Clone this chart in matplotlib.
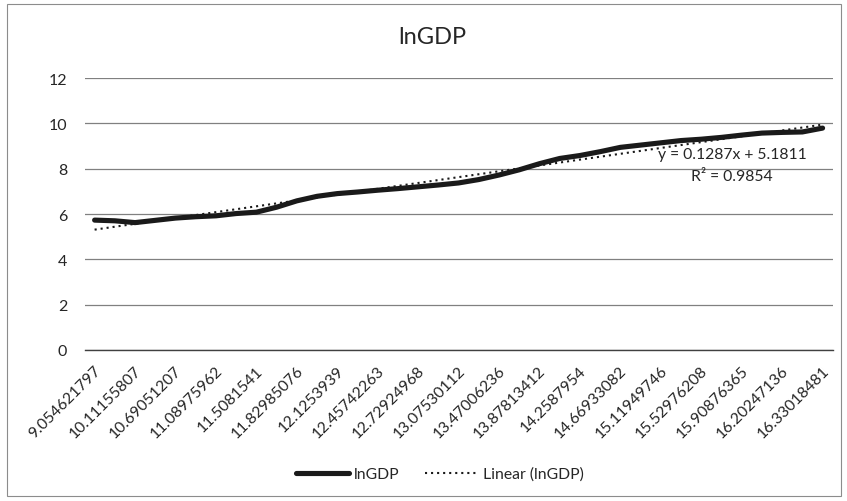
import numpy as np
import matplotlib
matplotlib.use("Agg")
import matplotlib.pyplot as plt
import matplotlib.transforms as mtransforms
from matplotlib.patches import Rectangle

plt.rcParams['font.family'] = ['Lato', 'DejaVu Sans']

# ---- data ----
tick_labels = ["9.054621797", "10.11155807", "10.69051207", "11.08975962",
               "11.5081541", "11.82985076", "12.1253939", "12.45742263",
               "12.72924968", "13.07530112", "13.47006236", "13.87813412",
               "14.2587954", "14.66933082", "15.11949746", "15.52976208",
               "15.90876365", "16.20247136", "16.33018481"]
lngdp = [5.73, 5.70, 5.62, 5.72, 5.82, 5.88, 5.92, 6.02, 6.08, 6.30,
         6.58, 6.78, 6.90, 6.97, 7.05, 7.12, 7.20, 7.28, 7.37, 7.52,
         7.72, 7.95, 8.22, 8.45, 8.58, 8.75, 8.94, 9.04, 9.14, 9.24,
         9.30, 9.38, 9.48, 9.57, 9.60, 9.62, 9.79]
trend_slope = 0.1287
trend_intercept = 5.1811
r_squared = 0.9854
y_ticks = [0, 2, 4, 6, 8, 10, 12]

W, H = 847, 502
fig = plt.figure(figsize=(W / 100, H / 100), dpi=100)
fig.patch.set_facecolor('white')

L, R, T, B = 84.5, 832.7, 79, 351
ax = fig.add_axes([L / W, 1 - B / H, (R - L) / W, (B - T) / H])

n = len(lngdp)
x = np.arange(n)
x_excel = np.arange(1, n + 1)
trend = trend_slope * x_excel + trend_intercept

text_color = '#262626'

line_main, = ax.plot(x, lngdp, color='#1a1a1a', lw=3.7, solid_capstyle='round',
                     solid_joinstyle='round', label='lnGDP', zorder=3)
line_trend, = ax.plot(x, trend, color='#1a1a1a', lw=1.5,
                      linestyle=(0, (1, 1.9)), label='Linear (lnGDP)', zorder=4)

ax.set_xlim(-0.5, n - 0.5)
ax.set_ylim(0, 12)
ax.set_yticks(y_ticks)
ax.set_yticklabels([str(v) for v in y_ticks])
ax.yaxis.grid(True, color='#808080', lw=0.9)
ax.set_axisbelow(True)
for s in ['top', 'right', 'left']:
    ax.spines[s].set_visible(False)
ax.spines['bottom'].set_color('#404040')
ax.spines['bottom'].set_linewidth(1.0)
ax.tick_params(axis='y', length=0, pad=12.4, labelsize=11.5, labelcolor=text_color)
ax.tick_params(axis='x', length=0, pad=13, labelsize=11.3, labelcolor=text_color)

ax.set_xticks(x[::2])
ax.set_xticklabels(tick_labels, rotation=45, ha='right', va='center',
                   rotation_mode='anchor')
offset = mtransforms.ScaledTranslation(4 / 100, 0, fig.dpi_scale_trans)
for lab in ax.get_xticklabels():
    lab.set_transform(lab.get_transform() + offset)

# trendline equation
fig.text(732 / W, 1 - 155 / H, "y = 0.1287x + 5.1811", ha='center', va='center',
         fontsize=11.3, color=text_color)
fig.text(732 / W, 1 - 177 / H, f"R\u00b2 = {r_squared:.4f}", ha='center', va='center',
         fontsize=11.3, color=text_color)

# title
fig.text(432.7 / W, 1 - 38 / H, "lnGDP", ha='center', va='center',
         fontsize=17, color=text_color)

# legend
leg = fig.legend(handles=[line_main, line_trend], loc='center',
                 bbox_to_anchor=(440 / W, 1 - 475 / H), ncol=2, frameon=False,
                 fontsize=11.3, handlelength=3.4, handletextpad=0.3,
                 columnspacing=1.6, labelcolor=text_color)

# chart border
fig.patches.append(Rectangle((7 / W, 5 / H), (841 - 7) / W, (497 - 5) / H,
                             transform=fig.transFigure, fill=False,
                             ec='#8c8c8c', lw=0.8))

fig.savefig('out.png', dpi=100, facecolor='white')
